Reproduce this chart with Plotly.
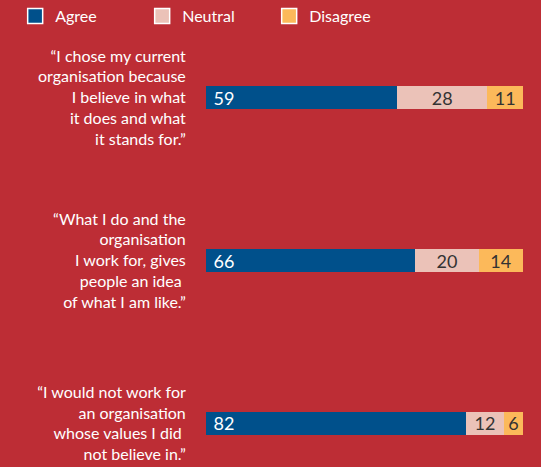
import plotly.graph_objects as go

statements = [
    "“I chose my current<br>organisation because<br>I believe in what<br>it does and what<br>it stands for.”",
    "“What I do and the<br>organisation<br>I work for, gives<br>people an idea\u00a0<br>of what I am like.”",
    "“I would not work for<br>an organisation<br>whose values I did\u00a0<br>not believe in.”",
]
agree = [59, 66, 82]
neutral = [28, 20, 12]
disagree = [11, 14, 6]

series = [
    ("Agree", agree, "#00508B", "white", "start", "\u00a0"),
    ("Neutral", neutral, "#EBC2B8", "#333333", "middle", ""),
    ("Disagree", disagree, "#FCB95A", "#333333", "middle", ""),
]

BG = "#BD2D35"
FONT = "Lato"

fig = go.Figure()
for name, vals, col, tcol, anchor, pad in series:
    fig.add_trace(go.Bar(
        y=statements, x=vals, orientation="h", name=name,
        marker=dict(color=col, line=dict(width=0)),
        text=[pad + str(v) for v in vals], textposition="inside", textangle=0,
        insidetextanchor=anchor, constraintext="none",
        textfont=dict(color=tcol, size=18, family=FONT),
        width=0.14, showlegend=False, hoverinfo="skip",
    ))
for name, vals, col, tcol, anchor, pad in series:
    fig.add_trace(go.Scatter(
        x=[None], y=[None], mode="markers", name=name,
        marker=dict(symbol="square", size=15, color=col,
                    line=dict(color="white", width=1.5)),
    ))

fig.update_layout(
    width=541, height=467,
    paper_bgcolor=BG, plot_bgcolor=BG,
    barmode="stack", barnorm="percent",
    margin=dict(l=206, r=18, t=40, b=0, autoexpand=False),
    font=dict(family=FONT, color="white", size=16),
    legend=dict(
        orientation="h", xref="paper", yref="paper",
        x=-0.602, y=1.096, xanchor="left", yanchor="top",
        font=dict(size=16, color="white", family=FONT),
        traceorder="normal", entrywidth=82,
        bgcolor="rgba(0,0,0,0)",
    ),
    xaxis=dict(range=[0, 100], visible=False, fixedrange=True),
    yaxis=dict(
        type="category", categoryorder="array", categoryarray=statements,
        range=[2.267, -0.353], showgrid=False, zeroline=False,
        showline=False, ticks="outside", ticklen=16, tickcolor=BG,
        tickfont=dict(size=16, color="white", family=FONT),
    ),
)

fig.write_html("out.html")
